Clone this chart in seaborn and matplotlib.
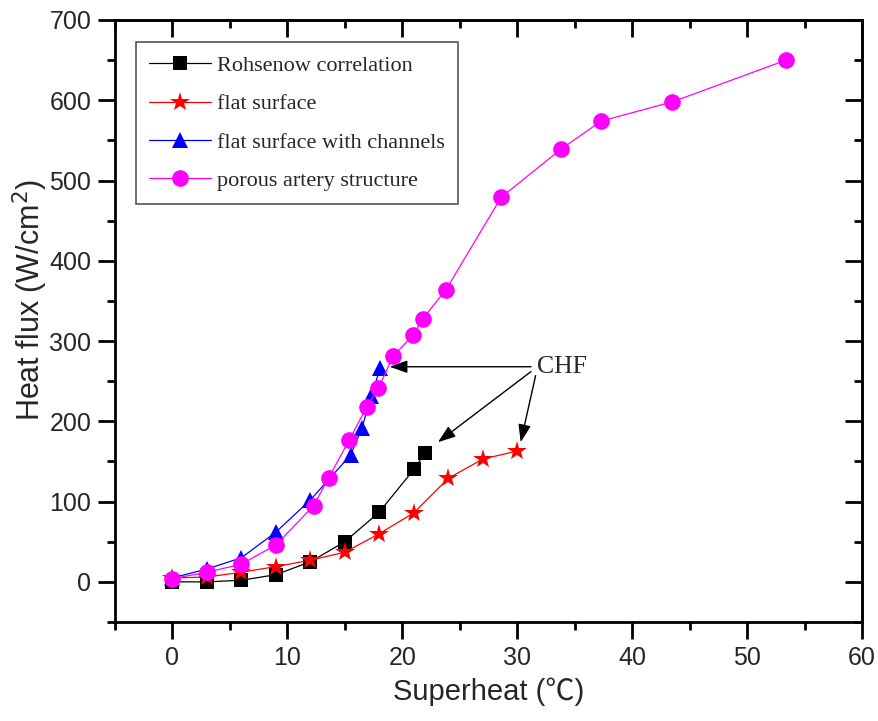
import numpy as np
import pandas as pd
import matplotlib
matplotlib.use("Agg")
import matplotlib.pyplot as plt
import seaborn as sns
from matplotlib.ticker import MultipleLocator

# ---- data ----
roh_x = [0, 3, 6, 9, 12, 15, 18, 21, 22]
roh_y = [0, 0, 2, 9, 25, 50, 87, 140, 161]

flat_x = [0, 3, 6, 9, 12, 15, 18, 21, 24, 27, 30]
flat_y = [5, 6, 12, 19, 27, 37, 60, 86, 129, 153, 163]

chan_x = [0, 3, 6, 9, 12, 15.5, 16.5, 17.3, 18.1]
chan_y = [5, 16, 30, 62, 102, 158, 192, 232, 267]

por_x = [0, 3, 6, 9, 12.3, 13.6, 15.4, 16.9, 17.9, 19.2, 20.9, 21.8, 23.8, 28.6, 33.8, 37.3, 43.5, 53.4]
por_y = [4, 12, 22, 46, 95, 130, 177, 218, 241, 281, 307, 328, 364, 479, 539, 574, 598, 650]

labels = ["Rohsenow correlation", "flat surface", "flat surface with channels", "porous artery structure"]
colors = ["#000000", "#ff0000", "#0000ff", "#ff00ff"]

x_ticks = [0, 10, 20, 30, 40, 50, 60]
y_ticks = [0, 100, 200, 300, 400, 500, 600, 700]

sns.set_theme(style="white")
plt.rcParams['font.family'] = ['Liberation Sans', 'DejaVu Sans']

fig = plt.figure(figsize=(8.79, 7.21), dpi=100)
ax = fig.add_axes([0.1308, 0.1373, 0.8499, 0.835])

series = [
    (roh_x, roh_y, "s", 10),
    (flat_x, flat_y, "*", 15),
    (chan_x, chan_y, "^", 11.5),
    (por_x, por_y, "o", 12),
]
for (xs, ys, mk, ms), lab, col in zip(series, labels, colors):
    df = pd.DataFrame({"x": xs, "y": ys})
    sns.lineplot(data=df, x="x", y="y", ax=ax, sort=False, color=col,
                 marker=mk, markersize=ms, markeredgewidth=0,
                 linewidth=0.9, label=lab, estimator=None)

ax.set_xlim(-5, 60)
ax.set_ylim(-50, 700)
ax.set_xticks(x_ticks)
ax.set_yticks(y_ticks)
ax.xaxis.set_minor_locator(MultipleLocator(5))
ax.yaxis.set_minor_locator(MultipleLocator(50))
ax.tick_params(which='major', direction='out', length=12, width=2,
               labelsize=18, color='black', bottom=True, left=True, top=False, right=False, pad=5)
ax.tick_params(which='minor', direction='out', length=6, width=2,
               bottom=True, left=True, top=False, right=False, color='black')
for s in ax.spines.values():
    s.set_color('black')
    s.set_linewidth(2)

# top and right inward ticks
secx = ax.secondary_xaxis('top')
secx.set_xticks(x_ticks)
secx.xaxis.set_minor_locator(MultipleLocator(5))
secx.tick_params(which='major', direction='in', length=12, width=2, labeltop=False, color='black')
secx.tick_params(which='minor', direction='in', length=6, width=2, color='black')
secx.spines['top'].set_linewidth(2)
secy = ax.secondary_yaxis('right')
secy.set_yticks(y_ticks)
secy.yaxis.set_minor_locator(MultipleLocator(50))
secy.tick_params(which='major', direction='in', length=12, width=2, labelright=False, color='black')
secy.tick_params(which='minor', direction='in', length=6, width=2, color='black')
secy.spines['right'].set_linewidth(2)

ax.set_xlabel("Superheat (\u2103)", fontsize=21, family=['Liberation Sans', 'Noto Sans CJK SC'], labelpad=6)
ax.set_ylabel("Heat flux (W/cm$^2$)", fontsize=22, labelpad=6)
ax.yaxis.set_label_coords(-0.087, 0.535)

leg = ax.legend(loc='upper left', bbox_to_anchor=(0.028, 0.963), frameon=True,
                fancybox=False, edgecolor='#555555', framealpha=1, borderaxespad=0,
                prop={'family': 'Liberation Serif', 'size': 16}, handlelength=2.8,
                labelspacing=0.8, borderpad=0.6, handletextpad=0.25)
leg.get_frame().set_linewidth(1.2)

# CHF annotations
ax.text(31.7, 268, "CHF", family='Liberation Serif', fontsize=18.5, va='center', ha='left')
arrow = dict(arrowstyle='-|>,head_length=0.9,head_width=0.32', color='black', lw=1, shrinkA=0, shrinkB=0)
ax.annotate("", xy=(18.9, 268), xytext=(31.2, 268), arrowprops=arrow)
ax.annotate("", xy=(23.1, 174), xytext=(31.2, 262), arrowprops=arrow)
ax.annotate("", xy=(30.3, 174), xytext=(31.6, 257), arrowprops=arrow)

fig.savefig("out.png", dpi=100, facecolor='white')
